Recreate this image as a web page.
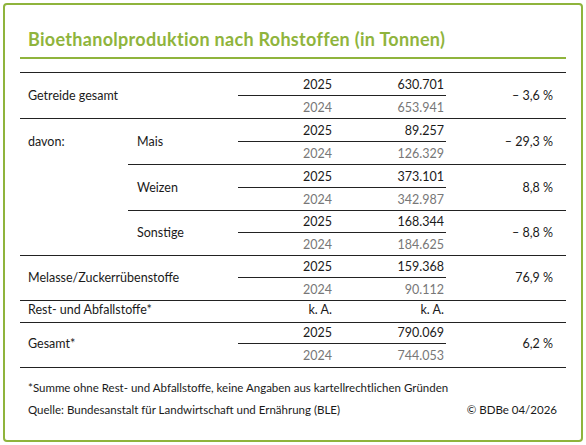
<!DOCTYPE html>
<html><head><meta charset="utf-8">
<script src="https://cdn.jsdelivr.net/npm/chart.js"></script>
<style>
body{margin:0;background:#fff;font-family:Lato,"Open Sans",sans-serif;}
#f{position:absolute;left:3px;top:3px;width:576px;height:435px;border:2px solid #8fb43c;border-radius:4px;}
.t{position:absolute;font-size:12.5px;color:#1a1a1a;white-space:nowrap;line-height:14px;transform:translateY(-7px);}
.g{color:#777;}
.r{text-align:right;}
.l{position:absolute;height:1px;background:#222;}
</style></head><body>
<div id="f"></div>
<div id="root"></div>
<script>
const groups=["Getreide gesamt","Mais","Weizen","Sonstige","Melasse/Zuckerrübenstoffe","Gesamt*"];
const v2025=["630.701","89.257","373.101","168.344","159.368","790.069"];
const v2024=["653.941","126.329","342.987","184.625","90.112","744.053"];
const change=["– 3,6 %","– 29,3 %","8,8 %","– 8,8 %","76,9 %","6,2 %"];
const years=["2025","2024"];
const root=document.getElementById('root');
function txt(s,x,y,cls,w,style){const d=document.createElement('div');d.className='t '+(cls||'');d.textContent=s;d.style.top=y+'px';if(w){d.style.left=(x-w)+'px';d.style.width=w+'px';}else d.style.left=x+'px';if(style)Object.assign(d.style,style);root.appendChild(d);}
function line(x1,x2,y,c,h){const d=document.createElement('div');d.className='l';d.style.left=x1+'px';d.style.width=(x2-x1)+'px';d.style.top=y+'px';if(c)d.style.background=c;if(h)d.style.height=h+'px';root.appendChild(d);}
txt("Bioethanolproduktion nach Rohstoffen (in Tonnen)",28,39,'',0,{color:'#8fb43c',fontWeight:'bold',fontSize:'18px',letterSpacing:'0.3px',lineHeight:'20px',transform:'translateY(-10px)'});
line(20,566,57,'#8fb43c',2);
line(20,566,72);
const y25=[85,131,177,222,267,333], bot=[118,164,210,255,300,367], lx=[28,137,137,137,28,28], bx=[20,128,128,20,20,20];
groups.forEach((g,i)=>{
  const y=y25[i];
  txt(g,lx[i],y+11);
  txt(years[0],332,y,'r',60);txt(v2025[i],444,y,'r',100);
  line(238,446,y+10);
  txt(years[1],332,y+23,'r g',60);txt(v2024[i],444,y+23,'r g',100);
  txt(change[i],553,y+11,'r',80);
  line(bx[i],566,bot[i]);
  if(i==4){txt("Rest- und Abfallstoffe*",28,310);txt("k. A.",332,310,'r',60);txt("k. A.",444,310,'r',100);line(20,566,322);}
});
txt("davon:",28,142);
txt("*Summe ohne Rest- und Abfallstoffe, keine Angaben aus kartellrechtlichen Gründen",28,388,'',0,{fontSize:'11.5px'});
txt("Quelle: Bundesanstalt für Landwirtschaft und Ernährung (BLE)",28,410,'',0,{fontSize:'11.5px'});
txt("© BDBe 04/2026",557,410,'r',150,{fontSize:'11.5px'});
</script></body></html>
